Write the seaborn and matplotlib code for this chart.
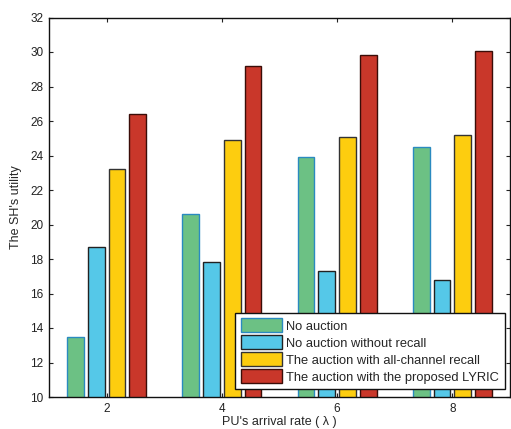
import matplotlib
matplotlib.use("Agg")
import matplotlib.pyplot as plt
import seaborn as sns
import pandas as pd

rates = ["2", "4", "6", "8"]
series_names = ["No auction", "No auction without recall",
                "The auction with all-channel recall",
                "The auction with the proposed LYRIC"]
no_auction = [13.5, 20.6, 23.9, 24.5]
no_recall = [18.7, 17.8, 17.3, 16.8]
all_recall = [23.2, 24.9, 25.1, 25.2]
lyric = [26.4, 29.2, 29.8, 30.05]
yticks = list(range(10, 33, 2))

colors = ["#6cc184", "#55c8e8", "#fdcd0f", "#c9372a"]
edges = ["#2a8ac0", "#222222", "#333333", "#3a0d08"]

rows = []
for name, vals in zip(series_names, [no_auction, no_recall, all_recall, lyric]):
    for r, v in zip(rates, vals):
        rows.append({"rate": r, "value": v, "series": name})
df = pd.DataFrame(rows)

sns.set_style("white")
plt.rcParams['font.family'] = ['Liberation Sans', 'DejaVu Sans']

fig = plt.figure(figsize=(5.11, 4.29), dpi=100)
ax = fig.add_axes([49/511, 32/429, 461/511, 379.5/429])
sns.barplot(data=df, x="rate", y="value", hue="series", order=rates,
            hue_order=series_names, palette=colors, width=0.72, gap=0.2,
            saturation=1, ax=ax, linewidth=1.0)

for cont, ec in zip(ax.containers, edges):
    for p in cont:
        p.set_edgecolor(ec)

ax.set_ylim(10, 32)
ax.set_xlim(-0.5, 3.5)
ax.set_yticks(yticks)
ax.set_yticklabels([str(t) for t in yticks])
ax.tick_params(direction="in", length=3, labelsize=8.5, top=True, right=True,
               bottom=True, left=True, width=0.8, colors="#222222", pad=4)
for s in ax.spines.values():
    s.set_visible(True)
    s.set_color("#111111")
    s.set_linewidth(1.0)
ax.set_xlabel("PU's arrival rate ( λ )", fontsize=9, labelpad=1)
ax.set_ylabel("The SH's utility", fontsize=9, labelpad=6)

handles, labels = ax.get_legend_handles_labels()
leg = ax.legend(handles, labels, loc="lower right", bbox_to_anchor=(0.9895, 0.02),
                fontsize=9.3, frameon=True, fancybox=False, framealpha=1,
                edgecolor="#111111", handlelength=3.2, handleheight=1.3,
                handletextpad=0.35, borderpad=0.45, labelspacing=0.2,
                borderaxespad=0)
leg.get_frame().set_linewidth(1.0)
for h, ec in zip(leg.legend_handles, edges):
    h.set_edgecolor(ec)

fig.savefig("out.png", dpi=100)
